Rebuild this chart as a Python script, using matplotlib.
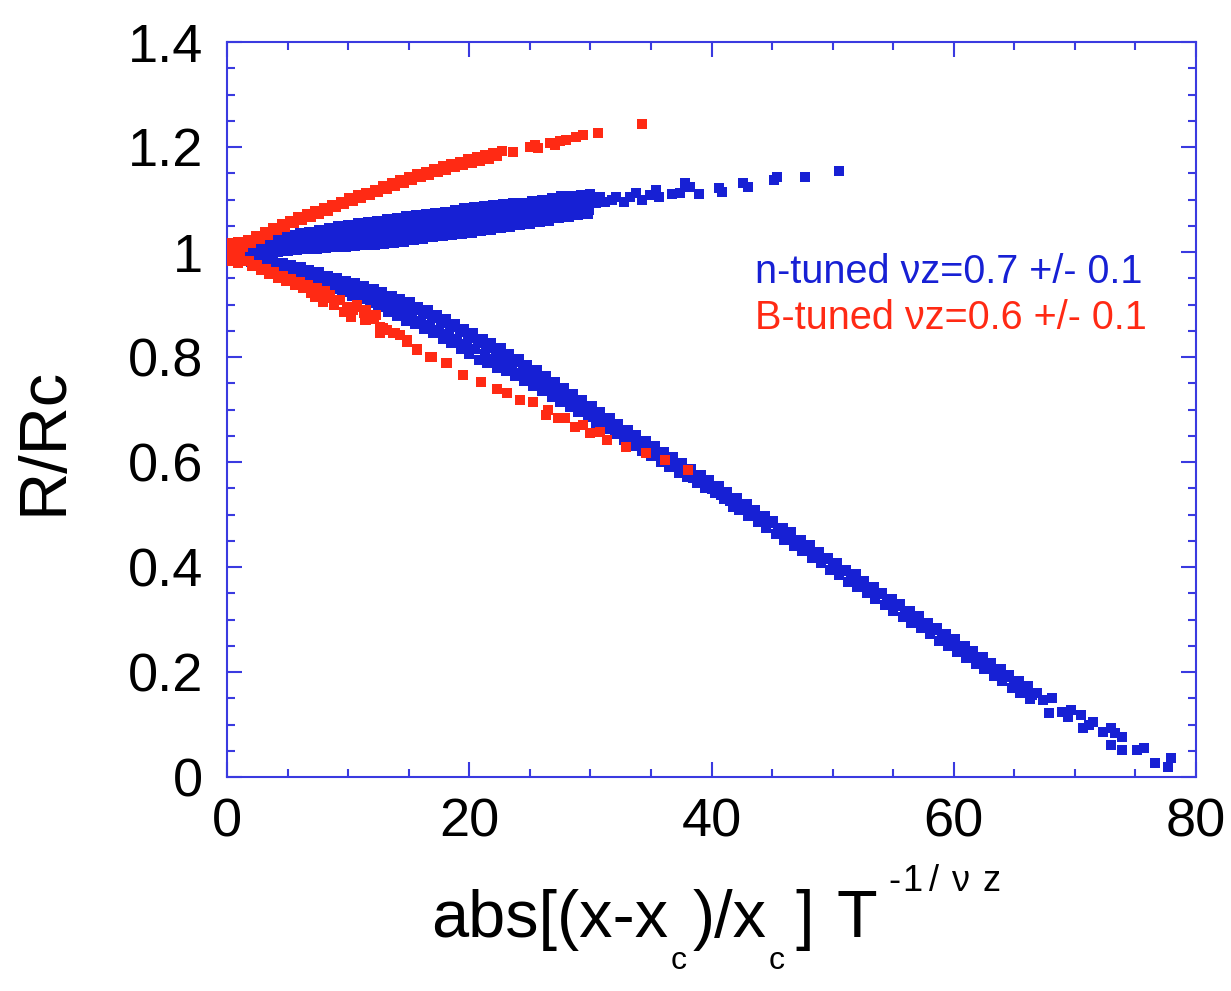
import numpy as np
import matplotlib
matplotlib.use("Agg")
import matplotlib.pyplot as plt
from matplotlib.ticker import MultipleLocator

plt.rcParams['font.family'] = ['Liberation Sans', 'DejaVu Sans']

# ---------------- data ----------------
x_ticks = [0, 20, 40, 60, 80]
x_tick_labels = ['0', '20', '40', '60', '80']
y_ticks = [0, 0.2, 0.4, 0.6, 0.8, 1.0, 1.2, 1.4]
y_tick_labels = ['0', '0.2', '0.4', '0.6', '0.8', '1', '1.2', '1.4']

label_n = 'n-tuned \u03bdz=0.7 +/- 0.1'
label_b = 'B-tuned \u03bdz=0.6 +/- 0.1'

# n-tuned, upper branch
blue_upper = [
    (0.4, 1.003), (1.2, 1.010), (2.0, 1.017), (2.8, 1.021), (3.6, 1.026), (4.4, 1.030),
    (5.2, 1.033), (6.0, 1.036), (6.8, 1.039), (7.6, 1.042), (8.4, 1.045), (9.2, 1.049),
    (10.0, 1.052), (10.8, 1.055), (11.6, 1.058), (12.4, 1.059), (13.2, 1.063), (14.0, 1.065),
    (14.8, 1.068), (15.6, 1.070), (16.4, 1.072), (17.2, 1.075), (18.0, 1.077), (18.8, 1.080),
    (19.6, 1.084), (20.4, 1.085), (21.2, 1.087), (22.0, 1.089), (22.8, 1.091), (23.6, 1.094),
    (24.4, 1.093), (25.2, 1.098), (26.0, 1.100), (26.8, 1.102), (27.6, 1.107), (28.4, 1.106),
    (29.2, 1.108), (30.0, 1.110),
    (0.8, 1.004), (1.6, 1.009), (2.4, 1.011), (3.2, 1.015), (4.0, 1.019), (4.8, 1.021),
    (5.6, 1.025), (6.4, 1.027), (7.2, 1.029), (8.0, 1.031), (8.8, 1.034), (9.6, 1.037),
    (10.4, 1.039), (11.2, 1.043), (12.0, 1.045), (12.8, 1.047), (13.6, 1.049), (14.4, 1.051),
    (15.2, 1.053), (16.0, 1.056), (16.8, 1.058), (17.6, 1.061), (18.4, 1.063), (19.2, 1.066),
    (20.0, 1.068), (20.8, 1.070), (21.6, 1.073), (22.4, 1.075), (23.2, 1.077), (24.0, 1.080),
    (24.8, 1.082), (25.6, 1.085), (26.4, 1.087), (27.2, 1.090), (28.0, 1.092), (28.8, 1.094),
    (29.6, 1.097),
    (0.6, 1.001), (1.4, 1.003), (2.2, 1.003), (3.0, 1.006), (3.8, 1.009), (4.6, 1.011),
    (5.4, 1.013), (6.2, 1.016), (7.0, 1.017), (7.8, 1.018), (8.6, 1.021), (9.4, 1.023),
    (10.2, 1.025), (11.0, 1.028), (11.8, 1.029), (12.6, 1.031), (13.4, 1.033), (14.2, 1.034),
    (15.0, 1.037), (15.8, 1.039), (16.6, 1.042), (17.4, 1.044), (18.2, 1.047), (19.0, 1.049),
    (19.8, 1.051), (20.6, 1.054), (21.4, 1.056), (22.2, 1.058), (23.0, 1.061), (23.8, 1.064),
    (24.6, 1.068), (25.4, 1.070), (26.2, 1.072), (27.0, 1.075), (27.8, 1.079), (28.6, 1.082),
    (29.4, 1.084),
    (1.0, 0.998), (1.8, 0.996), (2.6, 0.997), (3.4, 0.998), (4.2, 1.000), (5.0, 1.002),
    (5.8, 1.004), (6.6, 1.005), (7.4, 1.006), (8.2, 1.007), (9.0, 1.009), (9.8, 1.010),
    (10.6, 1.011), (11.4, 1.013), (12.2, 1.014), (13.0, 1.016), (13.8, 1.018), (14.6, 1.020),
    (15.4, 1.022), (16.2, 1.025), (17.0, 1.028), (17.8, 1.030), (18.6, 1.032), (19.4, 1.035),
    (20.2, 1.037), (21.0, 1.040), (21.8, 1.042), (22.6, 1.045), (23.4, 1.048), (24.2, 1.051),
    (25.0, 1.054), (25.8, 1.057), (26.6, 1.060), (27.4, 1.064), (28.2, 1.067), (29.0, 1.070),
    (29.8, 1.073),
    (29.9, 1.080), (30.5, 1.094), (30.8, 1.104),
    (31.2, 1.096), (31.8, 1.099), (32.1, 1.105), (32.8, 1.096), (33.3, 1.105), (33.8, 1.112),
    (34.3, 1.099), (34.9, 1.109), (35.4, 1.118), (35.7, 1.105), (36.7, 1.110), (37.4, 1.112),
    (37.8, 1.131), (38.2, 1.123), (39.0, 1.110), (40.6, 1.121), (40.9, 1.115), (42.6, 1.131),
    (43.0, 1.124), (45.2, 1.137), (45.4, 1.142), (47.7, 1.142), (50.5, 1.154),
]

# n-tuned, lower branch
blue_lower = [
    (0.3, 0.999), (1.0, 0.995), (1.7, 0.993), (2.4, 0.990), (3.1, 0.986), (3.8, 0.983),
    (4.6, 0.979), (5.3, 0.976), (6.1, 0.971), (6.8, 0.966), (7.6, 0.962), (8.3, 0.955),
    (9.1, 0.951), (9.8, 0.945), (10.6, 0.941), (11.3, 0.935), (12.1, 0.930), (12.8, 0.924),
    (13.6, 0.916), (14.3, 0.910), (15.1, 0.904), (15.8, 0.896), (16.6, 0.889), (17.3, 0.880),
    (18.1, 0.873), (18.8, 0.863), (19.6, 0.853), (20.3, 0.846), (21.1, 0.835), (21.8, 0.826),
    (22.6, 0.817), (23.3, 0.806), (24.1, 0.797), (24.8, 0.785), (25.6, 0.775), (26.3, 0.764),
    (27.1, 0.752), (27.8, 0.741), (28.6, 0.729), (29.3, 0.718), (30.1, 0.706), (30.8, 0.695),
    (31.6, 0.684), (32.3, 0.673), (33.1, 0.661), (33.8, 0.652), (34.6, 0.640), (35.3, 0.631),
    (36.1, 0.620), (36.8, 0.609), (37.6, 0.598), (38.3, 0.587), (39.1, 0.575), (39.8, 0.565),
    (40.6, 0.555), (41.3, 0.543),
    (0.7, 0.994), (1.4, 0.989), (2.1, 0.988), (2.8, 0.984), (3.5, 0.980), (4.2, 0.976),
    (4.9, 0.972), (5.7, 0.968), (6.4, 0.963), (7.2, 0.957), (7.9, 0.952), (8.7, 0.946),
    (9.4, 0.941), (10.2, 0.935), (10.9, 0.930), (11.7, 0.924), (12.4, 0.918), (13.2, 0.911),
    (13.9, 0.904), (14.7, 0.896), (15.4, 0.890), (16.2, 0.882), (16.9, 0.874), (17.7, 0.865),
    (18.4, 0.857), (19.2, 0.847), (19.9, 0.837), (20.7, 0.827), (21.4, 0.818), (22.2, 0.808),
    (22.9, 0.799), (23.7, 0.790), (24.4, 0.780), (25.2, 0.768), (25.9, 0.758), (26.7, 0.747),
    (27.4, 0.736), (28.2, 0.725), (28.9, 0.714), (29.7, 0.703), (30.4, 0.694), (31.2, 0.682),
    (31.9, 0.671), (32.7, 0.659), (33.4, 0.650), (34.2, 0.638), (34.9, 0.628), (35.7, 0.618),
    (36.4, 0.609), (37.2, 0.597), (37.9, 0.587), (38.7, 0.575), (39.4, 0.565), (40.2, 0.553),
    (40.9, 0.542), (41.7, 0.531),
    (0.5, 0.995), (1.2, 0.989), (1.9, 0.985), (2.6, 0.980), (3.3, 0.975), (4.0, 0.971),
    (4.8, 0.965), (5.5, 0.961), (6.3, 0.956), (7.0, 0.951), (7.8, 0.945), (8.5, 0.938),
    (9.3, 0.933), (10.0, 0.927), (10.8, 0.920), (11.5, 0.914), (12.3, 0.908), (13.0, 0.901),
    (13.8, 0.893), (14.5, 0.885), (15.3, 0.877), (16.0, 0.869), (16.8, 0.861), (17.5, 0.852),
    (18.3, 0.844), (19.0, 0.835), (19.8, 0.824), (20.5, 0.815), (21.3, 0.805), (22.0, 0.796),
    (22.8, 0.788), (23.5, 0.780), (24.3, 0.769), (25.0, 0.760), (25.8, 0.748), (26.5, 0.739),
    (27.3, 0.728), (28.0, 0.717), (28.8, 0.707), (29.5, 0.698), (30.3, 0.686), (31.0, 0.676),
    (31.8, 0.664), (32.5, 0.653), (33.3, 0.642), (34.0, 0.632), (34.8, 0.622), (35.5, 0.612),
    (36.3, 0.602), (37.0, 0.592), (37.8, 0.580), (38.5, 0.570), (39.3, 0.560), (40.0, 0.549),
    (40.8, 0.537), (41.5, 0.526),
    (0.6, 0.996), (1.3, 0.989), (2.0, 0.981), (2.8, 0.973), (3.5, 0.968), (4.3, 0.963),
    (5.0, 0.960), (5.8, 0.954), (6.5, 0.949), (7.3, 0.942), (8.0, 0.936), (8.8, 0.929),
    (9.5, 0.923), (10.3, 0.916), (11.0, 0.910), (11.8, 0.902), (12.5, 0.895), (13.3, 0.886),
    (14.0, 0.879), (14.8, 0.869), (15.5, 0.862), (16.3, 0.853), (17.0, 0.845), (17.8, 0.835),
    (18.5, 0.826), (19.3, 0.816), (20.0, 0.806), (20.8, 0.795), (21.5, 0.788), (22.3, 0.779),
    (23.0, 0.773), (23.8, 0.764), (24.5, 0.755), (25.3, 0.745), (26.0, 0.735), (26.8, 0.724),
    (27.5, 0.714), (28.3, 0.704), (29.0, 0.695), (29.8, 0.685), (30.5, 0.675), (31.3, 0.663),
    (32.0, 0.653), (32.8, 0.641), (33.5, 0.631), (34.3, 0.621), (35.0, 0.611), (35.8, 0.600),
    (36.5, 0.591), (37.3, 0.580), (38.0, 0.571), (38.8, 0.560), (39.5, 0.551), (40.3, 0.541),
    (41.0, 0.530), (41.8, 0.515),
    (42.1, 0.532), (42.9, 0.520), (43.6, 0.509), (44.4, 0.497), (45.1, 0.487), (45.9, 0.474),
    (46.6, 0.466), (47.4, 0.452), (48.1, 0.441), (48.9, 0.429), (49.6, 0.418), (50.4, 0.407),
    (51.1, 0.395), (51.9, 0.386), (52.6, 0.374), (53.4, 0.362), (54.1, 0.350), (54.9, 0.339),
    (55.6, 0.329), (56.4, 0.317), (57.1, 0.306), (57.9, 0.294), (58.6, 0.284), (59.4, 0.272),
    (60.1, 0.262), (60.9, 0.249), (61.6, 0.240), (62.4, 0.228), (63.1, 0.217), (63.9, 0.206),
    (64.6, 0.195), (65.4, 0.182), (66.1, 0.173), (66.9, 0.160),
    (42.5, 0.515), (43.2, 0.505), (44.0, 0.493), (44.7, 0.483), (45.5, 0.470), (46.2, 0.460),
    (47.0, 0.448), (47.7, 0.437), (48.5, 0.426), (49.2, 0.415), (50.0, 0.403), (50.7, 0.392),
    (51.5, 0.381), (52.2, 0.370), (53.0, 0.358), (53.7, 0.348), (54.5, 0.336), (55.2, 0.325),
    (56.0, 0.313), (56.7, 0.303), (57.5, 0.290), (58.2, 0.280), (59.0, 0.268), (59.7, 0.258),
    (60.5, 0.246), (61.2, 0.235), (62.0, 0.223), (62.7, 0.212), (63.5, 0.200), (64.2, 0.190),
    (65.0, 0.178), (65.7, 0.167), (66.5, 0.156),
    (42.3, 0.508), (43.0, 0.497), (43.8, 0.485), (44.5, 0.474), (45.3, 0.462), (46.0, 0.452),
    (46.8, 0.440), (47.5, 0.430), (48.3, 0.418), (49.0, 0.407), (49.8, 0.395), (50.5, 0.384),
    (51.3, 0.372), (52.0, 0.362), (52.8, 0.350), (53.5, 0.340), (54.3, 0.328), (55.0, 0.317),
    (55.8, 0.305), (56.5, 0.294), (57.3, 0.283), (58.0, 0.272), (58.8, 0.260), (59.5, 0.250),
    (60.3, 0.238), (61.0, 0.227), (61.8, 0.215), (62.5, 0.205), (63.3, 0.193), (64.0, 0.182),
    (64.8, 0.170), (65.5, 0.160), (66.3, 0.148),
    (67.4, 0.147), (68.1, 0.150), (67.9, 0.121), (68.9, 0.124), (69.4, 0.115), (69.7, 0.128),
    (70.5, 0.118), (70.7, 0.093), (71.2, 0.099), (71.5, 0.105), (72.3, 0.086), (73.0, 0.093),
    (73.3, 0.083), (73.0, 0.061), (73.9, 0.077), (73.9, 0.051), (75.1, 0.051), (75.7, 0.056),
    (76.6, 0.026), (77.7, 0.020), (77.9, 0.036),
]

# B-tuned, upper branch
red_upper = [
    (0.1, 1.000), (0.1, 1.018), (0.1, 0.982), (0.3, 1.010), (0.3, 0.990), (0.6, 1.014),
    (0.6, 0.986), (0.9, 1.019), (0.9, 0.980),
    (0.3, 1.007), (1.0, 1.015), (1.7, 1.023), (2.4, 1.031), (3.1, 1.038), (3.8, 1.046),
    (4.5, 1.053), (5.2, 1.060), (5.9, 1.066), (6.6, 1.072), (7.3, 1.078), (8.0, 1.084),
    (8.7, 1.090), (9.4, 1.096), (10.1, 1.102), (10.8, 1.108), (11.5, 1.113), (12.2, 1.119),
    (12.9, 1.125), (13.6, 1.131), (14.3, 1.137), (15.0, 1.142), (15.7, 1.148), (16.4, 1.153),
    (17.1, 1.158), (17.8, 1.163), (18.5, 1.168), (19.2, 1.172), (19.9, 1.177), (20.6, 1.181),
    (21.3, 1.185), (22.0, 1.189), (22.7, 1.193),
    (0.6, 1.003), (1.3, 1.010), (2.0, 1.018), (2.7, 1.025), (3.4, 1.033), (4.1, 1.041),
    (4.8, 1.048), (5.5, 1.055), (6.2, 1.061), (6.9, 1.067), (7.6, 1.073), (8.3, 1.079),
    (9.0, 1.085), (9.7, 1.091), (10.4, 1.097), (11.1, 1.103), (11.8, 1.108), (12.5, 1.114),
    (13.2, 1.120), (13.9, 1.125), (14.6, 1.131), (15.3, 1.137), (16.0, 1.142), (16.7, 1.147),
    (17.4, 1.152), (18.1, 1.157), (18.8, 1.161), (19.5, 1.165), (20.2, 1.170), (20.9, 1.174),
    (21.6, 1.178), (22.3, 1.182),
    (23.6, 1.191), (25.0, 1.200), (25.4, 1.204), (25.7, 1.199), (26.7, 1.208), (27.1, 1.204),
    (27.5, 1.212), (28.0, 1.214), (28.8, 1.219), (29.4, 1.223), (30.6, 1.227), (34.3, 1.244),
]

# B-tuned, lower branch
red_lower = [
    (0.4, 0.996), (1.1, 0.990), (1.8, 0.982), (2.5, 0.975), (3.2, 0.968), (3.9, 0.961),
    (4.6, 0.955), (5.3, 0.949), (6.0, 0.943), (6.7, 0.937), (7.4, 0.931), (8.1, 0.925),
    (0.7, 0.990), (1.4, 0.982), (2.1, 0.974), (2.8, 0.966), (3.5, 0.958), (4.2, 0.951),
    (4.9, 0.945), (5.6, 0.938), (6.3, 0.932), (7.0, 0.925),
    (6.9, 0.921), (7.3, 0.915), (8.0, 0.912), (8.5, 0.918), (8.8, 0.902), (9.3, 0.909),
    (9.9, 0.896), (10.4, 0.890), (10.7, 0.899), (11.3, 0.883), (11.5, 0.870), (12.1, 0.873),
    (12.6, 0.858), (13.2, 0.851), (13.7, 0.845), (14.3, 0.842), (14.9, 0.832), (15.7, 0.816),
    (16.8, 0.800), (18.2, 0.788),
    (7.9, 0.905), (8.8, 0.899), (9.7, 0.886), (10.5, 0.896), (10.2, 0.877), (11.4, 0.870),
    (11.5, 0.890), (12.3, 0.880), (12.9, 0.855), (12.6, 0.846), (13.9, 0.846), (14.9, 0.829),
    (15.7, 0.813), (16.9, 0.800), (18.1, 0.788), (19.5, 0.766), (21.0, 0.753), (22.3, 0.740),
    (23.1, 0.731), (24.2, 0.718), (25.3, 0.715), (26.5, 0.699), (26.3, 0.690), (27.3, 0.683),
    (27.9, 0.683), (28.7, 0.667), (29.4, 0.670), (30.0, 0.655), (30.8, 0.658), (31.4, 0.642),
    (32.9, 0.629), (34.6, 0.617), (36.2, 0.604), (38.1, 0.585),
]

# ---------------- styling ----------------
BLUE = '#1720d4'
RED = '#ff2a14'
AXIS_BLUE = '#3a3ae0'
W, H = 1231, 991

fig = plt.figure(figsize=(W / 100, H / 100), dpi=100)
fig.patch.set_facecolor('white')
ax = fig.add_axes([227 / W, 1 - 777 / H, (1196 - 227) / W, (777 - 42) / H])

for pts, col in [(blue_upper, BLUE), (blue_lower, BLUE), (red_upper, RED), (red_lower, RED)]:
    a = np.array(pts)
    ax.scatter(a[:, 0], a[:, 1], s=42, marker='s', color=col, linewidths=0, zorder=3)

ax.set_xlim(0, 80)
ax.set_ylim(0, 1.4)
ax.set_xticks(x_ticks)
ax.set_xticklabels(x_tick_labels)
ax.set_yticks(y_ticks)
ax.set_yticklabels(y_tick_labels)
ax.xaxis.set_minor_locator(MultipleLocator(5))
ax.yaxis.set_minor_locator(MultipleLocator(0.05))

for sp in ax.spines.values():
    sp.set_color(AXIS_BLUE)
    sp.set_linewidth(1.5)

ax.tick_params(which='both', direction='in', top=True, right=True, color=AXIS_BLUE, width=1.5)
ax.tick_params(which='major', length=11)
ax.tick_params(which='minor', length=5.5)
ax.tick_params(axis='x', which='major', labelsize=39, pad=15, labelcolor='black')
ax.tick_params(axis='y', which='major', labelsize=39, pad=17, labelcolor='black')


def fx(px):
    return px / W


def fy(py):
    return 1 - py / H


# y label
fig.text(fx(44), fy(441), 'R/Rc', fontsize=48, rotation=90, ha='center', va='center')

# x label built from pieces
fig.text(fx(431), fy(937), 'abs[(x-x', fontsize=48, ha='left', va='baseline')
fig.text(fx(671), fy(969), 'c', fontsize=23, ha='left', va='baseline')
fig.text(fx(693), fy(937), ')/x', fontsize=48, ha='left', va='baseline')
fig.text(fx(769), fy(969), 'c', fontsize=23, ha='left', va='baseline')
fig.text(fx(795), fy(937), ']', fontsize=48, ha='left', va='baseline')
fig.text(fx(836), fy(937), 'T', fontsize=48, ha='left', va='baseline')
sup_parts = [('-', 888), ('1', 902), ('/', 929), ('\u03bd', 951), ('z', 982)]
for s_txt, s_x in sup_parts:
    fig.text(fx(s_x), fy(891), s_txt, fontsize=26, ha='left', va='baseline')

# annotations
fig.text(fx(755), fy(283), label_n, fontsize=28.5, color=BLUE, ha='left', va='baseline')
fig.text(fx(755), fy(329), label_b, fontsize=28.5, color=RED, ha='left', va='baseline')

fig.savefig('out.png', dpi=100, facecolor='white')
